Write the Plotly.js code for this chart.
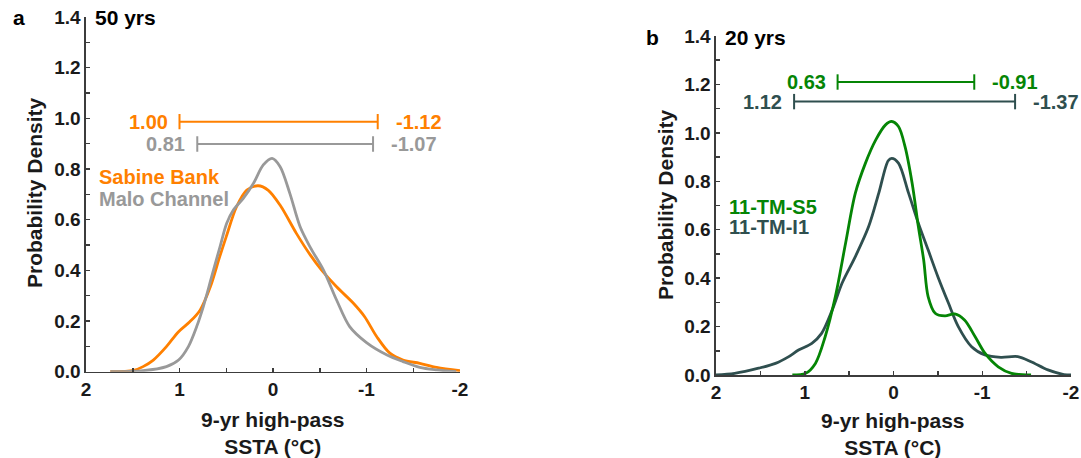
<!DOCTYPE html>
<html><head><meta charset="utf-8">
<script src="https://cdn.plot.ly/plotly-3.0.1.min.js"></script>
<style>html,body{margin:0;padding:0;background:#fff}#chart{width:1081px;height:458px}</style>
</head><body><div id="chart"></div>
<script>
// ---- Panel a (50 yrs) ----
const sabineX = [1.74, 1.49, 1.39, 1.28, 1.14, 1.01, 0.89, 0.78, 0.67, 0.57, 0.50, 0.39, 0.28, 0.16, 0.05, -0.08, -0.25, -0.40, -0.52, -0.68, -0.86, -0.98, -1.11, -1.25, -1.39, -1.57, -1.75, -2.0];
const sabineY = [0, 0.005, 0.02, 0.046, 0.099, 0.158, 0.197, 0.243, 0.335, 0.454, 0.533, 0.651, 0.717, 0.734, 0.716, 0.655, 0.546, 0.46, 0.401, 0.335, 0.27, 0.217, 0.138, 0.073, 0.046, 0.033, 0.017, 0.004];
const maloX = [1.74, 1.39, 1.14, 1.01, 0.905, 0.816, 0.745, 0.656, 0.567, 0.495, 0.424, 0.318, 0.21, 0.104, 0.01, -0.075, -0.18, -0.29, -0.40, -0.54, -0.68, -0.82, -1.0, -1.22, -1.39, -1.57, -1.75, -1.96];
const maloY = [0, 0.004, 0.02, 0.046, 0.099, 0.178, 0.257, 0.375, 0.493, 0.586, 0.638, 0.684, 0.743, 0.816, 0.842, 0.81, 0.704, 0.572, 0.49, 0.401, 0.283, 0.178, 0.115, 0.066, 0.04, 0.017, 0.007, 0];
const sabineRange = [1.00, -1.12];
const maloRange = [0.81, -1.07];

// ---- Panel b (20 yrs) ----
const s5X = [1.14, 0.99, 0.88, 0.77, 0.655, 0.54, 0.43, 0.316, 0.20, 0.09, 0.02, -0.056, -0.13, -0.21, -0.28, -0.34, -0.39, -0.47, -0.58, -0.69, -0.80, -0.92, -1.03, -1.18, -1.33, -1.55];
const s5Y = [0, 0.007, 0.048, 0.158, 0.324, 0.544, 0.751, 0.875, 0.971, 1.033, 1.047, 1.026, 0.943, 0.792, 0.613, 0.475, 0.324, 0.255, 0.244, 0.252, 0.227, 0.158, 0.09, 0.034, 0.007, 0];
const i1X = [2.0, 1.79, 1.52, 1.33, 1.18, 1.07, 0.92, 0.81, 0.69, 0.58, 0.43, 0.28, 0.166, 0.06, 0.02, -0.056, -0.17, -0.28, -0.39, -0.50, -0.62, -0.73, -0.88, -1.03, -1.21, -1.40, -1.55, -1.74, -1.92, -2.0];
const i1Y = [0, 0.007, 0.028, 0.048, 0.076, 0.103, 0.131, 0.172, 0.269, 0.379, 0.489, 0.613, 0.751, 0.885, 0.895, 0.875, 0.751, 0.627, 0.517, 0.406, 0.296, 0.2, 0.117, 0.083, 0.073, 0.076, 0.055, 0.021, 0.002, 0];
const s5Range = [0.63, -0.91];
const i1Range = [1.12, -1.37];

const xTickVals = [2, 1, 0, -1, -2];
const xTickText = ['2', '1', '0', '-1', '-2'];
const yTickVals = [0, 0.2, 0.4, 0.6, 0.8, 1.0, 1.2, 1.4];
const yTickText = ['0.0', '0.2', '0.4', '0.6', '0.8', '1.0', '1.2', '1.4'];

const C_OR = '#ff8000', C_GR = '#999999', C_GN = '#058505', C_SL = '#2f4f4f';
const FONT = 'Liberation Sans, Arial, Helvetica, sans-serif';
const AX = '#3c3c3c';

function curve(x, y, color, xa, ya) {
  return {x: x, y: y, xaxis: xa, yaxis: ya, mode: 'lines', type: 'scatter',
    line: {color: color, width: 2.8, shape: 'spline', smoothing: 0.9}, hoverinfo: 'skip'};
}
function bar(range, level, color, xa, ya) {
  return {x: range, y: [level, level], xaxis: xa, yaxis: ya, mode: 'lines+markers', type: 'scatter',
    line: {color: color, width: 2}, marker: {symbol: 'line-ns', size: 11, line: {color: color, width: 2}},
    hoverinfo: 'skip'};
}
const traces = [
  curve(sabineX, sabineY, C_OR, 'x', 'y'),
  curve(maloX, maloY, C_GR, 'x', 'y'),
  bar(sabineRange, 0.987, C_OR, 'x', 'y'),
  bar(maloRange, 0.899, C_GR, 'x', 'y'),
  curve(i1X, i1Y, C_SL, 'x2', 'y2'),
  curve(s5X, s5Y, C_GN, 'x2', 'y2'),
  bar(s5Range, 1.21, C_GN, 'x2', 'y2'),
  bar(i1Range, 1.129, C_SL, 'x2', 'y2')
];

function xaxis(domain, anchor) {
  return {domain: domain, anchor: anchor, range: [2, -2], autorange: false,
    tickmode: 'array', tickvals: xTickVals, ticktext: xTickText,
    ticks: 'inside', ticklen: 4, tickwidth: 1.5, tickcolor: AX,
    minor: {tickmode: 'array', tickvals: [1.5, 0.5, -0.5, -1.5], ticks: 'inside', ticklen: 4, tickwidth: 1.5, tickcolor: AX},
    showline: true, linecolor: AX, linewidth: 1.6, showgrid: false, zeroline: false,
    tickfont: {family: FONT, size: 19, color: '#1a1a1a', weight: 'bold'}, fixedrange: true};
}
function yaxis(domain, anchor) {
  return {domain: domain, anchor: anchor, range: [0, 1.4], autorange: false,
    tickmode: 'array', tickvals: yTickVals, ticktext: yTickText,
    ticks: 'inside', ticklen: 4, tickwidth: 1.5, tickcolor: AX,
    minor: {tickmode: 'array', tickvals: [0.1, 0.3, 0.5, 0.7, 0.9, 1.1, 1.3], ticks: 'inside', ticklen: 4, tickwidth: 1.5, tickcolor: AX},
    showline: true, linecolor: AX, linewidth: 1.6, showgrid: false, zeroline: false,
    tickfont: {family: FONT, size: 19, color: '#1a1a1a', weight: 'bold'}, fixedrange: true};
}

function ann(text, x, y, xref, yref, color, size, xanchor, extra) {
  return Object.assign({text: text, x: x, y: y, xref: xref, yref: yref, showarrow: false,
    xanchor: xanchor, yanchor: 'middle', font: {family: FONT, size: size, color: color, weight: 'bold'}}, extra || {});
}
function rangeLabels(range, level, color, xr, yr) {
  return [
    ann(range[0].toFixed(2), range[0], level, xr, yr, color, 20, 'right', {xshift: -10}),
    ann(range[1].toFixed(2), range[1], level, xr, yr, color, 20, 'left', {xshift: 16})
  ];
}

const W = 1081, H = 458;
const annotations = [
  ...rangeLabels(sabineRange, 0.987, C_OR, 'x', 'y'),
  ...rangeLabels(maloRange, 0.899, C_GR, 'x', 'y'),
  ...rangeLabels(s5Range, 1.21, C_GN, 'x2', 'y2'),
  ...rangeLabels(i1Range, 1.129, C_SL, 'x2', 'y2'),
  ann('Sabine Bank', 1.88, 0.768, 'x', 'y', C_OR, 20, 'left'),
  ann('Malo Channel', 1.88, 0.68, 'x', 'y', C_GR, 20, 'left'),
  ann('11-TM-S5', 1.876, 0.695, 'x2', 'y2', C_GN, 20, 'left'),
  ann('11-TM-I1', 1.876, 0.613, 'x2', 'y2', C_SL, 20, 'left'),
  ann('a', 11 / W, 1 - 18 / H, 'paper', 'paper', '#000', 21, 'left'),
  ann('50 yrs', 93 / W, 1 - 18 / H, 'paper', 'paper', '#000', 21, 'left'),
  ann('b', 644 / W, 1 - 37 / H, 'paper', 'paper', '#000', 21, 'left'),
  ann('20 yrs', 723 / W, 1 - 37 / H, 'paper', 'paper', '#000', 21, 'left'),
  ann('Probability Density', 34 / W, 1 - 193 / H, 'paper', 'paper', '#1a1a1a', 21, 'center', {textangle: -90}),
  ann('Probability Density', 665 / W, 1 - 205 / H, 'paper', 'paper', '#1a1a1a', 21, 'center', {textangle: -90}),
  ann('9-yr high-pass<br>SSTA (°C)', 273 / W, 1 - 433 / H, 'paper', 'paper', '#1a1a1a', 21, 'center'),
  ann('9-yr high-pass<br>SSTA (°C)', 893 / W, 1 - 434 / H, 'paper', 'paper', '#1a1a1a', 21, 'center')
];

const layout = {
  width: W, height: H, margin: {l: 0, r: 0, t: 0, b: 0},
  paper_bgcolor: '#fff', plot_bgcolor: '#fff', showlegend: false,
  font: {family: FONT},
  xaxis: xaxis([86 / W, 460 / W], 'y'),
  yaxis: yaxis([1 - 371.7 / H, 1 - 17 / H], 'x'),
  xaxis2: xaxis([716 / W, 1071 / W], 'y2'),
  yaxis2: yaxis([1 - 375 / H, 1 - 36 / H], 'x2'),
  annotations: annotations
};
Plotly.newPlot('chart', traces, layout, {displayModeBar: false, staticPlot: true});
</script></body></html>
